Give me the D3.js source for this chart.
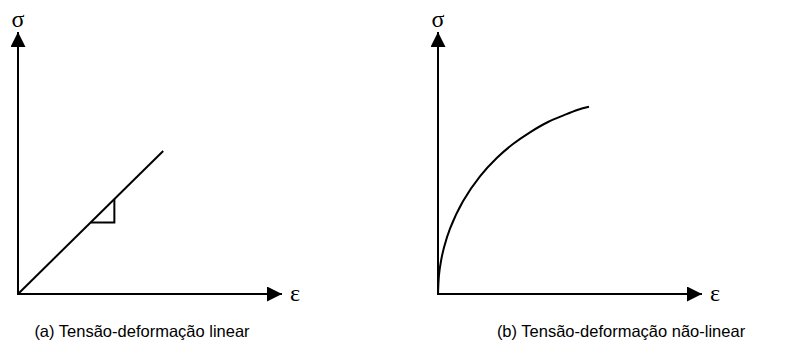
<!DOCTYPE html>
<html>
<head>
<meta charset="utf-8">
<script src="https://cdn.jsdelivr.net/npm/d3@7"></script>
<style>
  html, body { margin: 0; padding: 0; background: #fff; }
  svg { display: block; }
</style>
</head>
<body>
<svg id="chart" width="790" height="354"></svg>
<script>
// Stress–strain diagrams: linear (a) and non-linear (b)

// Panel (a): linear elastic line, σ = E·ε
const linearStrain = [0, 55];
const linearStress = [0, 54.6];
// Slope marker along the line (strain range)
const slopeStrain = [27.5, 36.5];

// Panel (b): non-linear curve, strain vs stress
const curveStrain = [0, 0.38, 1.14, 2.27, 4.55, 9.47, 15.9, 22.35, 28.4, 34.85, 41.67, 47.35, 53.03, 57.2];
const curveStress = [0, 7.33, 12.6, 17.79, 24.96, 35.42, 44.89, 51.98, 57.25, 61.72, 65.65, 68.09, 70.31, 71.45];

// Axis and caption labels
const axisLabels = { y: "σ", x: "ε" };
const captions = ["(a) Tensão-deformação linear", "(b) Tensão-deformação não-linear"];

const svg = d3.select("#chart");

svg.append("defs").append("marker")
  .attr("id", "arrow")
  .attr("viewBox", "0 0 10 10")
  .attr("refX", 10).attr("refY", 5)
  .attr("markerUnits", "userSpaceOnUse")
  .attr("markerWidth", 16).attr("markerHeight", 15)
  .attr("orient", "auto")
  .append("path")
  .attr("d", "M0,0 L10,5 L0,10 Z")
  .attr("fill", "#000");

const panels = [
  { x0: 18, caption: captions[0], captionX: 142 },
  { x0: 438, caption: captions[1], captionX: 621 }
];
const originY = 294;
const xLen = 264, yLen = 262;

panels.forEach((p, i) => {
  const g = svg.append("g");
  const x = d3.scaleLinear().domain([0, 100]).range([p.x0, p.x0 + xLen]);
  const y = d3.scaleLinear().domain([0, 100]).range([originY, originY - yLen]);

  // axes with arrowheads
  g.append("line")
    .attr("x1", x(0)).attr("y1", y(0)).attr("x2", x(0)).attr("y2", y(100))
    .attr("stroke", "#000").attr("stroke-width", 2)
    .attr("marker-end", "url(#arrow)");
  g.append("line")
    .attr("x1", x(0) - 1).attr("y1", y(0)).attr("x2", x(100)).attr("y2", y(0))
    .attr("stroke", "#000").attr("stroke-width", 2)
    .attr("marker-end", "url(#arrow)");

  g.append("text")
    .attr("x", x(0)).attr("y", y(100) - 5)
    .attr("text-anchor", "middle")
    .attr("font-family", "'Liberation Serif', 'Times New Roman', serif")
    .attr("font-size", 24)
    .text(axisLabels.y);
  g.append("text")
    .attr("x", x(100) + 8).attr("y", y(0) + 7)
    .attr("font-family", "'Liberation Serif', 'Times New Roman', serif")
    .attr("font-size", 24)
    .text(axisLabels.x);

  g.append("text")
    .attr("x", p.captionX).attr("y", 337)
    .attr("text-anchor", "middle")
    .attr("font-family", "'Liberation Sans', Arial, sans-serif")
    .attr("font-size", 16.5)
    .text(p.caption);

  if (i === 0) {
    const slope = linearStress[1] / linearStrain[1];
    g.append("path")
      .datum(linearStrain.map((e, k) => [e, linearStress[k]]))
      .attr("d", d3.line().x(d => x(d[0])).y(d => y(d[1])))
      .attr("fill", "none").attr("stroke", "#000").attr("stroke-width", 2);
    const [a, b] = slopeStrain;
    g.append("path")
      .attr("d", `M${x(a)},${y(a * slope)} L${x(b)},${y(a * slope)} L${x(b)},${y(b * slope)}`)
      .attr("fill", "none").attr("stroke", "#000").attr("stroke-width", 2);
  } else {
    g.append("path")
      .datum(curveStrain.map((e, k) => [e, curveStress[k]]))
      .attr("d", d3.line().x(d => x(d[0])).y(d => y(d[1])).curve(d3.curveCatmullRom.alpha(0.5)))
      .attr("fill", "none").attr("stroke", "#000").attr("stroke-width", 2);
  }
});
</script>
</body>
</html>
